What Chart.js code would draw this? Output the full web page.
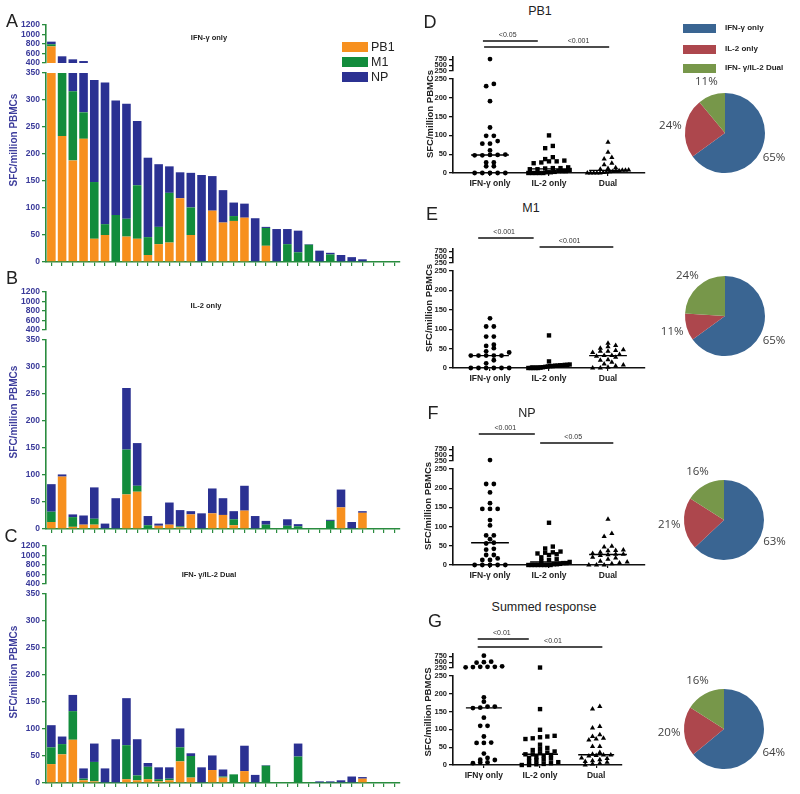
<!DOCTYPE html>
<html>
<head>
<meta charset="utf-8">
<script src="https://cdn.jsdelivr.net/npm/chart.js@4.4.1/dist/chart.umd.min.js"></script>
<style>
  body { margin: 0; background: #fff; }
  #page { position: relative; width: 800px; height: 794px; overflow: hidden; font-family: 'Liberation Sans', Arial, sans-serif; }
  canvas { position: absolute; }
  .t { position: absolute; white-space: nowrap; line-height: 1; transform: translate(-50%, -50%); }
  .l { position: absolute; white-space: nowrap; line-height: 1; transform: translate(0, -50%); }
  .rot { transform: translate(-50%, -50%) rotate(-90deg); }
  .letter { font-size: 18px; color: #222; }
  .ptitle { font-size: 12.5px; color: #222; }
  .btitle { font-size: 7.5px; font-weight: bold; color: #222; }
  .ybar { font-family: 'Liberation Sans Narrow', 'Liberation Sans', Arial, sans-serif; font-size: 10px; font-weight: bold; color: #3d3d9c; }
  .ydot { font-size: 9.5px; font-weight: bold; color: #222; }
  .box { position: absolute; }
  .bleg { font-size: 12.5px; color: #222; }
  .pleg { font-size: 8px; font-weight: bold; color: #222; }
</style>
</head>
<body>
<div id="page">
  <canvas id="cA" width="386" height="252" style="left:16px;top:18px"></canvas>
  <canvas id="cB" width="386" height="252" style="left:16px;top:285px"></canvas>
  <canvas id="cC" width="386" height="252" style="left:16px;top:539px"></canvas>
  <canvas id="cD" width="226" height="168" style="left:423px;top:27px"></canvas>
  <canvas id="cE" width="226" height="171" style="left:423px;top:219px"></canvas>
  <canvas id="cF" width="226" height="170" style="left:423px;top:417px"></canvas>
  <canvas id="cG" width="203" height="163" style="left:423px;top:624px"></canvas>
  <canvas id="pD" width="160" height="130" style="left:645px;top:68px"></canvas>
  <canvas id="pE" width="160" height="130" style="left:645px;top:251px"></canvas>
  <canvas id="pF" width="160" height="130" style="left:644px;top:455px"></canvas>
  <canvas id="pG" width="160" height="130" style="left:644px;top:664px"></canvas>

  <div class="t letter" style="left:12px;top:21px">A</div>
  <div class="t letter" style="left:12px;top:278px">B</div>
  <div class="t letter" style="left:11px;top:536px">C</div>
  <div class="t letter" style="left:430px;top:22px">D</div>
  <div class="t letter" style="left:432px;top:214px">E</div>
  <div class="t letter" style="left:433px;top:413px">F</div>
  <div class="t letter" style="left:435px;top:621px">G</div>

  <div class="t btitle" style="left:209px;top:38px">IFN-γ only</div>
  <div class="t btitle" style="left:206px;top:306px">IL-2 only</div>
  <div class="t btitle" style="left:209px;top:575px">IFN- γ/IL-2 Dual</div>

  <div class="t ybar rot" style="left:14px;top:140px">SFC/million PBMCs</div>
  <div class="t ybar rot" style="left:14px;top:412px">SFC/million PBMCs</div>
  <div class="t ybar rot" style="left:14px;top:672px">SFC/million PBMCs</div>

  <div class="t ptitle" style="left:540px;top:11px">PB1</div>
  <div class="t ptitle" style="left:531px;top:208px">M1</div>
  <div class="t ptitle" style="left:527px;top:413px">NP</div>
  <div class="t ptitle" style="left:544px;top:607px">Summed response</div>

  <div class="t ydot rot" style="left:430px;top:114px">SFC/million PBMCs</div>
  <div class="t ydot rot" style="left:429px;top:308px">SFC/million PBMCs</div>
  <div class="t ydot rot" style="left:428px;top:506px">SFC/million PBMCs</div>
  <div class="t ydot rot" style="left:428px;top:712px">SFC/million PBMCS</div>

  <div class="box" style="left:342px;top:42px;width:26px;height:10px;background:#F7901E"></div>
  <div class="box" style="left:342px;top:57px;width:26px;height:10px;background:#128C3C"></div>
  <div class="box" style="left:342px;top:72px;width:26px;height:10px;background:#2B3192"></div>
  <div class="l bleg" style="left:371px;top:47px">PB1</div>
  <div class="l bleg" style="left:371px;top:62px">M1</div>
  <div class="l bleg" style="left:371px;top:77px">NP</div>

  <div class="box" style="left:683px;top:24px;width:33px;height:9px;background:#3A6592"></div>
  <div class="box" style="left:683px;top:45px;width:33px;height:9px;background:#AD474D"></div>
  <div class="box" style="left:683px;top:64px;width:33px;height:9px;background:#77974A"></div>
  <div class="l pleg" style="left:725px;top:28px">IFN-γ only</div>
  <div class="l pleg" style="left:725px;top:49px">IL-2 only</div>
  <div class="l pleg" style="left:725px;top:68px">IFN- γ/IL-2 Dual</div>
</div>
<script>
// donors (bars A-C), one entry per subject
var donors = [1, 2, 3, 4, 5, 6, 7, 8, 9, 10, 11, 12, 13, 14, 15, 16, 17, 18, 19, 20, 21, 22, 23, 24, 25, 26, 27, 28, 29, 30, 31, 32, 33];

// A: IFN-γ only
var ifnPB1 = [750, 233, 188, 228, 43, 50, 0, 47, 43, 13, 33, 36, 118, 50, 0, 95, 73, 76, 82, 0, 30, 0, 0, 0, 0, 0, 0, 0, 0, 0, 0, 0, 0];
var ifnM1  = [45, 135, 128, 49, 105, 20, 87, 33, 99, 33, 32, 92, 0, 51, 0, 0, 0, 9, 0, 0, 33, 0, 33, 18, 32, 0, 14, 0, 0, 0, 0, 0, 0];
var ifnNP  = [55, 172, 160, 163, 189, 262, 212, 213, 119, 147, 116, 49, 48, 64, 161, 64, 60, 25, 26, 81, 2, 61, 28, 40, 1, 21, 3, 13, 9, 5, 0, 0, 0];
// B: IL-2 only
var il2PB1 = [13, 97, 4, 8, 8, 0, 0, 64, 69, 0, 6, 8, 3, 27, 0, 29, 26, 7, 34, 0, 0, 0, 0, 0, 0, 0, 0, 40, 0, 30, 0, 0, 0];
var il2M1  = [19, 0, 18, 0, 11, 0, 0, 83, 11, 7, 0, 0, 2, 0, 0, 0, 0, 11, 0, 0, 8, 0, 6, 5, 0, 0, 15, 0, 0, 0, 0, 0, 0];
var il2NP  = [51, 4, 5, 17, 58, 10, 57, 114, 79, 17, 4, 41, 30, 6, 29, 46, 31, 15, 46, 24, 7, 0, 12, 4, 0, 0, 2, 33, 13, 3, 0, 0, 0];
// C: IFN-γ/IL-2 dual
var dualPB1 = [35, 53, 80, 5, 3, 0, 0, 7, 5, 7, 3, 5, 40, 10, 0, 24, 10, 0, 22, 0, 0, 0, 0, 0, 0, 0, 0, 0, 0, 8, 0, 0, 0];
var dualM1  = [31, 19, 53, 3, 36, 0, 0, 63, 9, 23, 4, 3, 26, 40, 0, 0, 2, 16, 0, 0, 32, 0, 0, 49, 0, 0, 0, 0, 0, 0, 0, 0, 0];
var dualNP  = [41, 14, 30, 19, 34, 27, 81, 87, 67, 7, 22, 21, 35, 5, 29, 27, 13, 0, 47, 15, 1, 0, 0, 24, 0, 3, 3, 5, 12, 3, 0, 0, 0];

var antigens = ['PB1', 'M1', 'NP'];
var barTicksLow = [0, 50, 100, 150, 200, 250, 300, 350];
var barTicksHigh = [400, 600, 800, 1000, 1200];

// D-G: individual responses per group
var groups = ['IFN-γ only', 'IL-2 only', 'Dual'];
var groupsG = ['IFNγ only', 'IL-2 only', 'Dual'];
var pb1Ifn  = [760, 237, 231, 191, 121, 99, 99, 85, 78, 78, 60, 48, 48, 47, 47, 49, 28, 28, 18, 18, 0, 0, 0, 0, 0];
var pb1Il2  = [100, 72, 66, 42, 37, 33, 31, 31, 28, 26, 15, 13, 13, 12, 10, 10, 8, 5, 5, 5, 3, 2, 2, 0, 0, 0, 0, 0];
var pb1Dual = [82, 55, 41, 37, 26, 22, 14, 12, 10, 8, 7, 7, 6, 5, 4, 3, 2, 1, 0, 0, 0, 0, 0];
var m1Ifn   = [128, 107, 107, 81, 81, 60, 57, 51, 43, 40, 32, 32, 32, 32, 32, 20, 12, 0, 0, 0, 0, 0, 0];
var m1Il2   = [84, 17, 9, 8, 8, 7, 7, 6, 6, 5, 5, 4, 3, 2, 1, 0, 0, 0, 0, 0];
var m1Dual  = [64, 58, 55, 51, 47, 45, 43, 43, 40, 35, 32, 32, 30, 28, 21, 20, 15, 10, 8, 5, 2, 0, 0];
var npIfn   = [290, 211, 211, 189, 161, 146, 146, 146, 117, 103, 77, 77, 67, 58, 56, 42, 40, 26, 26, 17, 13, 13, 0, 0, 0, 0, 0];
var npIl2   = [110, 48, 43, 35, 33, 32, 30, 28, 26, 20, 15, 13, 10, 8, 5, 5, 3, 2, 2, 0, 0, 0, 0, 0, 0, 0, 0];
var npDual  = [119, 82, 74, 49, 47, 39, 38, 37, 33, 30, 28, 28, 27, 25, 20, 18, 15, 10, 8, 5, 3, 0, 0, 0];
var sumIfn  = [780, 520, 500, 480, 320, 300, 300, 300, 290, 280, 190, 178, 164, 164, 161, 160, 133, 110, 110, 80, 63, 62, 62, 32, 20, 15, 14, 7, 7, 5];
var sumIl2  = [270, 157, 99, 82, 80, 78, 75, 73, 57, 48, 45, 42, 38, 35, 33, 30, 30, 28, 26, 22, 20, 18, 15, 13, 10, 8, 5, 3, 2, 0, 0];
var sumDual = [164, 157, 108, 104, 85, 80, 75, 73, 70, 52, 52, 35, 30, 28, 28, 27, 25, 20, 18, 15, 12, 10, 8, 5, 3, 0];
var dotTicksLow = [0, 50, 100, 150, 200, 250];
var dotTicksHigh = [250, 500, 750];

// significance bars: [from group, to group, label at, p value]
var sigD = [[0.88, 1.81, 1.3, '<0.05'], [0.9, 3.02, 2.5, '<0.001']];
var sigE = [[0.8, 1.74, 1.24, '<0.001'], [1.84, 3.09, 2.35, '<0.001']];
var sigF = [[0.81, 1.76, 1.26, '<0.001'], [1.85, 3.09, 2.41, '<0.05']];
var sigG = [[0.89, 1.8, 1.32, '<0.01'], [0.89, 3.11, 2.23, '<0.01']];

// pies: share of responders (%)
var cellTypes = ['IFN-γ only', 'IL-2 only', 'IFN- γ/IL-2 Dual'];
var piePB1 = [65, 24, 11];
var pieM1  = [65, 11, 24];
var pieNP  = [63, 21, 16];
var pieSum = [64, 20, 16];

var barColors = ['#F7901E', '#128C3C', '#2B3192'];
var pieColors = ['#3A6592', '#AD474D', '#77974A'];
var axisGreen = '#2A8C3F';
var tickBlue = '#3a3a9a';
var narrow = "'Liberation Sans Narrow', 'Liberation Sans', Arial, sans-serif";

Chart.defaults.font.family = "'Liberation Sans', Arial, sans-serif";

// draw each dataset only inside its own y segment (broken axis)
var segmentClip = {
    id: 'segmentClip',
    beforeDatasetDraw: function (chart, args) {
        var ys = chart.scales[args.meta.yAxisID];
        var a = chart.chartArea;
        chart.ctx.save();
        chart.ctx.beginPath();
        chart.ctx.rect(a.left, ys.top, a.right - a.left, ys.bottom - ys.top);
        chart.ctx.clip();
    },
    afterDatasetDraw: function (chart) {
        chart.ctx.restore();
    }
};

function fixedTicks(list) {
    return function (scale) {
        scale.ticks = list.map(function (v) { return { value: v }; });
    };
}

function plain(v) { return String(v); }

function barAxis(min, max, list, weight, px) {
    return {
        type: 'linear', position: 'left', stack: 'v', stackWeight: px, weight: weight,
        min: min, max: max, stacked: true,
        afterBuildTicks: fixedTicks(list),
        ticks: { autoSkip: false, color: tickBlue, padding: 2, callback: plain, font: { family: narrow, size: 8.5, weight: 'bold' } },
        grid: { drawOnChartArea: false, color: axisGreen, lineWidth: 1.3, tickLength: 4 },
        border: { color: axisGreen, width: 1.6 },
        afterFit: function (s) { s.width = 30; }
    };
}

function gapAxis(weight, px) {
    return {
        type: 'linear', position: 'left', stack: 'v', stackWeight: px, weight: weight, min: 0, max: 1,
        ticks: { display: false }, grid: { display: false }, border: { display: false },
        afterFit: function (s) { s.width = 30; }
    };
}

function barChart(id, series) {
    var datasets = [];
    ['y', 'yTop'].forEach(function (axis) {
        series.forEach(function (vals, i) {
            datasets.push({
                label: antigens[i], data: vals, yAxisID: axis,
                backgroundColor: barColors[i], borderWidth: 0,
                barPercentage: 0.8, categoryPercentage: 1
            });
        });
    });
    new Chart(document.getElementById(id), {
        type: 'bar',
        data: { labels: donors, datasets: datasets },
        options: {
            responsive: false, animation: false, events: [],
            layout: { padding: { top: 6, right: 2, left: 0, bottom: 0 } },
            plugins: { legend: { display: false }, tooltip: { enabled: false } },
            scales: {
                x: {
                    type: 'category', stacked: true, offset: true,
                    ticks: { autoSkip: false, maxRotation: 0, callback: function () { return ''; } },
                    grid: { offset: false, drawOnChartArea: false, color: axisGreen, lineWidth: 1.2, tickLength: 4 },
                    border: { color: axisGreen, width: 1.6 },
                    afterFit: function (s) { s.height = 8; }
                },
                y: barAxis(0, 350, barTicksLow, 1, 190),
                yGap: gapAxis(2, 10),
                yTop: barAxis(400, 1200, barTicksHigh, 3, 38)
            }
        },
        plugins: [segmentClip]
    });
}

barChart('cA', [ifnPB1, ifnM1, ifnNP]);
barChart('cB', [il2PB1, il2M1, il2NP]);
barChart('cC', [dualPB1, dualM1, dualNP]);

// ---- column scatter plots ----
function median(arr) {
    var s = arr.slice().sort(function (a, b) { return a - b; });
    var m = Math.floor(s.length / 2);
    return s.length % 2 ? s[m] : (s[m - 1] + s[m]) / 2;
}

// spread points with similar values side by side
function spread(values, center, step, maxWidth) {
    var sorted = values.slice().sort(function (a, b) { return a - b; });
    var rows = [];
    sorted.forEach(function (v) {
        var last = rows[rows.length - 1];
        var tol = v > 250 ? 100 : 9;
        if (last && v - last[0] <= tol && (last[0] > 250) === (v > 250)) last.push(v);
        else rows.push([v]);
    });
    var pts = [];
    rows.forEach(function (row) {
        var n = row.length;
        var s = n > 1 ? Math.min(step, maxWidth / (n - 1)) : 0;
        row.forEach(function (v, i) {
            pts.push({ x: center + (i - (n - 1) / 2) * s, y: v });
        });
    });
    return pts;
}

var sigByCanvas = {};
var sigPlugin = {
    id: 'sigBars',
    afterDraw: function (chart) {
        var cfg = sigByCanvas[chart.canvas.id];
        if (!cfg) return;
        var ctx = chart.ctx, xs = chart.scales.x, top = chart.chartArea.top;
        ctx.save();
        cfg.bars.forEach(function (b, i) {
            var y = top + cfg.dy[i];
            ctx.strokeStyle = '#111';
            ctx.lineWidth = 1.6;
            ctx.beginPath();
            ctx.moveTo(xs.getPixelForValue(b[0]), y);
            ctx.lineTo(xs.getPixelForValue(b[1]), y);
            ctx.stroke();
            ctx.fillStyle = '#333';
            ctx.font = "7px 'Liberation Sans', Arial";
            ctx.textAlign = 'center';
            ctx.textBaseline = 'bottom';
            ctx.fillText(b[3], xs.getPixelForValue(b[2]), y - 2);
        });
        ctx.restore();
    }
};

function dotAxis(min, max, list, weight, px) {
    return {
        type: 'linear', position: 'left', stack: 'v', stackWeight: px, weight: weight,
        min: min, max: max,
        afterBuildTicks: fixedTicks(list),
        ticks: { autoSkip: false, color: '#222', padding: 2, callback: plain, font: { size: 7.5, weight: 'bold' } },
        grid: { drawOnChartArea: false, color: '#111', lineWidth: 1.3, tickLength: 4 },
        border: { color: '#111', width: 1.6 },
        afterFit: function (s) { s.width = 30; }
    };
}

var markers = [
    { style: 'circle', r: 2.4 },
    { style: 'rect', r: 3.1 },
    { style: 'triangle', r: 3.0 }
];

function dotChart(id, cols, labels, xMin, xMax, lowerPx, sig, sigDy) {
    sigByCanvas[id] = { bars: sig, dy: sigDy };
    var datasets = [];
    cols.forEach(function (vals, g) {
        var pts = spread(vals, g + 1, 0.13, 0.7);
        var mk = markers[g];
        [['y', function (p) { return p.y <= 250; }], ['yTop', function (p) { return p.y > 250; }]].forEach(function (seg) {
            datasets.push({
                type: 'scatter', data: pts.filter(seg[1]), yAxisID: seg[0],
                pointStyle: mk.style, pointRadius: mk.r, backgroundColor: '#000', borderColor: '#000', borderWidth: 0,
                clip: false
            });
        });
        var m = median(vals);
        datasets.push({
            type: 'line', data: [{ x: g + 1 - 0.32, y: m }, { x: g + 1 + 0.32, y: m }], yAxisID: 'y',
            borderColor: '#000', borderWidth: 1.4, pointRadius: 0, clip: false
        });
    });
    new Chart(document.getElementById(id), {
        type: 'scatter',
        data: { datasets: datasets },
        options: {
            responsive: false, animation: false, events: [],
            layout: { padding: { top: 30, right: 4, left: 0, bottom: 0 } },
            plugins: { legend: { display: false }, tooltip: { enabled: false } },
            scales: {
                x: {
                    type: 'linear', min: xMin, max: xMax,
                    afterBuildTicks: fixedTicks([1, 2, 3]),
                    ticks: {
                        autoSkip: false, maxRotation: 0, padding: 3, color: '#222',
                        font: { size: 8.5, weight: 'bold' },
                        callback: function (v) { return labels[v - 1]; }
                    },
                    grid: { drawOnChartArea: false, color: '#111', lineWidth: 1.2, tickLength: 3 },
                    border: { color: '#111', width: 1.6 },
                    afterFit: function (s) { s.height = 22; }
                },
                y: dotAxis(0, 250, dotTicksLow, 1, lowerPx),
                yGap: gapAxis(2, 8),
                yTop: dotAxis(250, 850, dotTicksHigh, 3, 14)
            }
        },
        plugins: [sigPlugin]
    });
}

dotChart('cD', [pb1Ifn, pb1Il2, pb1Dual], groups, 0.373, 3.627, 94, sigD, [-16, -10]);
dotChart('cE', [m1Ifn, m1Il2, m1Dual], groups, 0.373, 3.627, 97, sigE, [-11, -2]);
dotChart('cF', [npIfn, npIl2, npDual], groups, 0.373, 3.627, 96, sigF, [-13, -4]);
dotChart('cG', [sumIfn, sumIl2, sumDual], groupsG, 0.45, 3.46, 89, sigG, [-15, -7]);

// ---- pies ----
var pieLabels = {
    id: 'pieLabels',
    afterDatasetsDraw: function (chart) {
        var ctx = chart.ctx;
        var vals = chart.data.datasets[0].data;
        ctx.save();
        ctx.fillStyle = '#404040';
        ctx.font = "11.5px 'Open Sans', 'Liberation Sans', sans-serif";
        ctx.textAlign = 'center';
        ctx.textBaseline = 'middle';
        chart.getDatasetMeta(0).data.forEach(function (arc, i) {
            var mid = (arc.startAngle + arc.endAngle) / 2;
            var r = arc.outerRadius + 15;
            ctx.fillText(vals[i] + '%', arc.x + Math.cos(mid) * r, arc.y + Math.sin(mid) * r);
        });
        ctx.restore();
    }
};

function pieChart(id, values) {
    new Chart(document.getElementById(id), {
        type: 'pie',
        data: { labels: cellTypes, datasets: [{ data: values, backgroundColor: pieColors, borderWidth: 0 }] },
        options: {
            responsive: false, animation: false, events: [],
            layout: { padding: { left: 40, right: 40, top: 25, bottom: 25 } },
            plugins: { legend: { display: false }, tooltip: { enabled: false } }
        },
        plugins: [pieLabels]
    });
}

pieChart('pD', piePB1);
pieChart('pE', pieM1);
pieChart('pF', pieNP);
pieChart('pG', pieSum);
</script>
</body>
</html>
